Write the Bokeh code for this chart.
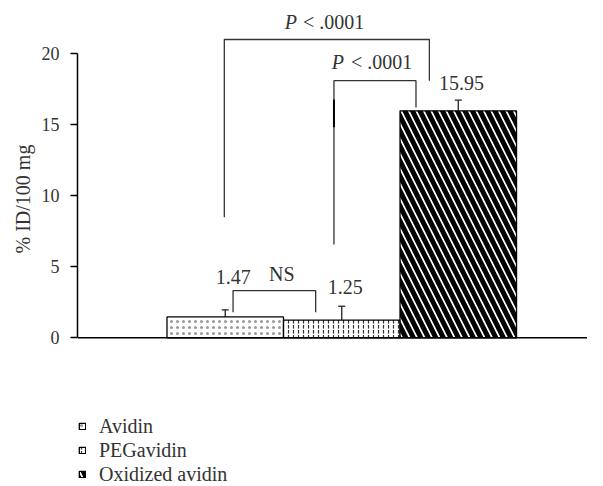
from bokeh.plotting import figure
from bokeh.models import (Range1d, Span, Whisker, ColumnDataSource, Legend,
                          LegendItem, TeeHead, FixedTicker, Title)
from bokeh.core.properties import value
from bokeh.embed import file_html
from bokeh.resources import INLINE

# ---------------- data ----------------
categories = ["Avidin", "PEGavidin", "Oxidized avidin"]
means = [1.47, 1.25, 15.95]
errors = [0.5, 0.97, 0.75]
value_labels = ["1.47", "1.25", "15.95"]
y_ticks = [0, 5, 10, 15, 20]
y_label = "% ID/100 mg"

# significance brackets (data units)
brk_text = ["NS", "P < .0001", "P < .0001"]
brk_left = [0.067, 0.933, -0.008]
brk_right = [0.776, 1.637, 1.752]
brk_top = [3.32, 18.07, 20.96]
brk_left_bottom = [1.80, 6.55, 8.47]
brk_right_bottom = [1.80, 16.18, 18.07]
brk_text_x = [0.485, 1.049, 0.637]
brk_text_y = [4.45, 19.36, 22.17]

# ---------------- styles ----------------
FONT = value("Liberation Serif")
FS = "20px"
TXT = "#333333"
hatch_patterns = ["dot", "vertical_dash", "left_diagonal_line"]
hatch_scales = [6, 5, 15]
hatch_weights = [0.8, 1.2, 5.0]
hatch_colors = ["#999999", "#333333", "black"]
label_dx = [8, 3.5, 3.3]
label_dy = [-33, -19, -17]

p = figure(width=587, height=486, output_backend="svg", toolbar_location=None,
           x_range=Range1d(-1.268, 3.109), y_range=Range1d(-10.446, 23.70),
           x_axis_location=None, min_border_left=77, min_border_right=0,
           min_border_top=0, min_border_bottom=0)
p.outline_line_color = None
p.xgrid.visible = False
p.ygrid.visible = False

yax = p.yaxis[0]
yax.bounds = (0, 20)
yax.ticker = FixedTicker(ticks=y_ticks)
yax.axis_line_color = "black"
yax.axis_line_width = 1.5
yax.major_tick_line_color = "black"
yax.major_tick_line_width = 1.3
yax.major_tick_out = 7
yax.major_tick_in = 0
yax.minor_tick_out = 0
yax.minor_tick_in = 0
yax.major_label_standoff = 11
yax.major_label_text_font = "Liberation Serif"
yax.major_label_text_font_size = "18px"
yax.major_label_text_color = TXT

p.add_layout(Title(text=y_label, align="left", offset=233, standoff=10,
                   text_font="Liberation Serif", text_font_size="20px",
                   text_font_style="normal", text_color=TXT), "left")

p.add_layout(Span(location=0, dimension="width", line_color="black", line_width=1.5))

idx = list(range(len(categories)))
bars = []
for i in idx:
    bars.append(p.vbar(x=[i], top=[means[i]], width=1.0, bottom=0,
                       fill_color="white", line_color="black", line_width=1.3,
                       hatch_pattern=hatch_patterns[i], hatch_scale=hatch_scales[i],
                       hatch_weight=hatch_weights[i], hatch_color=hatch_colors[i]))

err_src = ColumnDataSource(dict(
    x=idx,
    upper=[m + e for m, e in zip(means, errors)],
    lower=[m - e for m, e in zip(means, errors)],
))
p.add_layout(Whisker(base="x", upper="upper", lower="lower", source=err_src,
                     line_color="#222222", line_width=1.3,
                     upper_head=TeeHead(size=7, line_color="#222222", line_width=1.3),
                     lower_head=TeeHead(size=7, line_color="#222222", line_width=1.3)))

# value labels
for i in idx:
    p.text(x=[i], y=[means[i] + errors[i]], text=[value_labels[i]],
           x_offset=label_dx[i], y_offset=label_dy[i],
           text_font=FONT, text_font_size=FS, text_color=TXT,
           text_align="center", text_baseline="middle")

# brackets
xs = [[l, l, r, r] for l, r in zip(brk_left, brk_right)]
ys = [[lb, t, t, rb] for lb, t, rb in zip(brk_left_bottom, brk_top, brk_right_bottom)]
p.multi_line(xs=xs, ys=ys, line_color="#333333", line_width=1.3)
p.segment(x0=[brk_left[1]], y0=[14.8], x1=[brk_left[1]], y1=[16.75],
          line_color="black", line_width=2)

# bracket labels
p.text(x=[brk_text_x[0]], y=[brk_text_y[0]], text=[brk_text[0]],
       text_font=FONT, text_font_size=FS, text_color=TXT,
       text_align="center", text_baseline="middle")
for k, dxp, dxr in [(1, -3.5, 3.5), (2, -2.5, 3.5)]:
    head, rest = brk_text[k].split(" ", 1)
    p.text(x=[brk_text_x[k]], y=[brk_text_y[k]], text=[head], x_offset=dxp,
           text_font=FONT, text_font_size=FS, text_font_style="italic",
           text_color=TXT, text_align="right", text_baseline="middle")
    p.text(x=[brk_text_x[k]], y=[brk_text_y[k]], text=[rest], x_offset=dxr,
           text_font=FONT, text_font_size=FS, text_color=TXT,
           text_align="left", text_baseline="middle")

legend = Legend(items=[LegendItem(label=c, renderers=[r]) for c, r in zip(categories, bars)],
                location=(1, 0), orientation="vertical",
                glyph_width=8, glyph_height=8, label_standoff=13, spacing=0,
                padding=0, margin=0, border_line_color=None,
                background_fill_alpha=0, label_height=24,
                label_text_font="Liberation Serif", label_text_font_size="20px",
                label_text_color=TXT)
p.add_layout(legend)

open("out.html", "w").write(file_html(p, INLINE))
